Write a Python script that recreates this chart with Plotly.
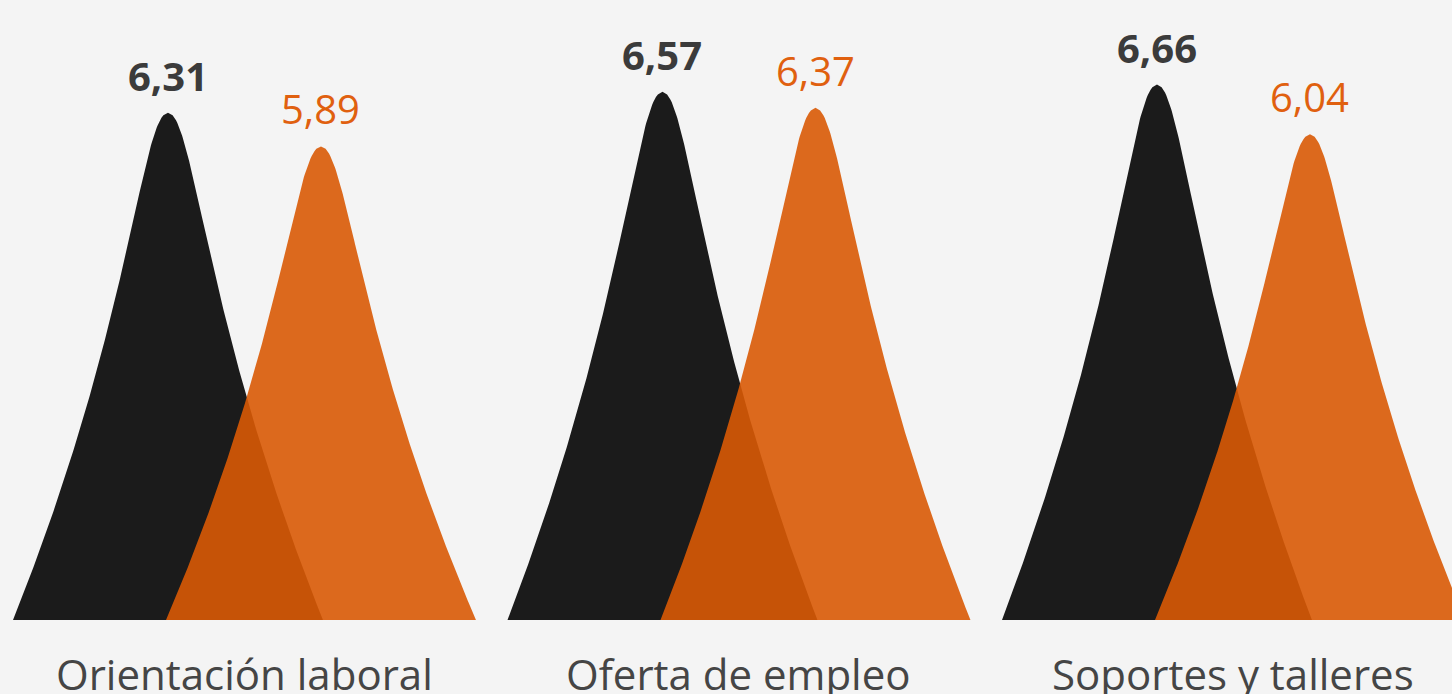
import numpy as np
import plotly.graph_objects as go

categories = ["Orientación laboral", "Oferta de empleo", "Soportes y talleres"]
serie_negra = [6.31, 6.57, 6.66]
serie_naranja = [5.89, 6.37, 6.04]
etiquetas_negra = ["6,31", "6,57", "6,66"]
etiquetas_naranja = ["5,89", "6,37", "6,04"]

BLACK = "#1b1b1b"
ORANGE = "rgba(217,90,6,0.9)"
BG = "#f4f4f4"

offset = 0.1547      # half distance between the two peaks of a group (category units)
halfw = 0.3134       # half width of a peak at its base


def peak(xc, h):
    # peak outline: rounded tip, near-straight flanks that flare toward the base
    d = np.linspace(0, 1, 200)
    t = halfw * (0.42 * np.sqrt(d) + 0.58 * d ** 1.9)
    y = h * (1 - d)
    xs = np.concatenate([xc - t[::-1], xc + t[1:]])
    ys = np.concatenate([y[::-1], y[1:]])
    return xs, ys


fig = go.Figure()
for i, cat in enumerate(categories):
    xb, yb = peak(i - offset, serie_negra[i])
    fig.add_trace(go.Scatter(x=xb, y=yb, fill="toself", fillcolor=BLACK, mode="lines",
                             line=dict(width=0), hoverinfo="skip", showlegend=False))
    xo, yo = peak(i + offset, serie_naranja[i])
    fig.add_trace(go.Scatter(x=xo, y=yo, fill="toself", fillcolor=ORANGE, mode="lines",
                             line=dict(width=0), hoverinfo="skip", showlegend=False))
    fig.add_annotation(x=i - offset, y=serie_negra[i], text="<b>" + etiquetas_negra[i] + "</b>",
                       showarrow=False, yanchor="bottom", yshift=8,
                       font=dict(family="Open Sans", size=40, color="#3b3b3b"))
    fig.add_annotation(x=i + offset, y=serie_naranja[i], text=etiquetas_naranja[i],
                       showarrow=False, yanchor="bottom", yshift=8,
                       font=dict(family="Open Sans", size=40, color="#e0600f"))
    fig.add_annotation(x=i, y=0, text=cat, showarrow=False, yanchor="top", yshift=-23,
                       font=dict(family="Open Sans", size=42, color="#454545"))

fig.update_layout(
    width=1452, height=694,
    margin=dict(l=0, r=0, t=0, b=0),
    paper_bgcolor=BG, plot_bgcolor=BG,
    xaxis=dict(range=[-0.4944, 2.4419], visible=False, fixedrange=True),
    yaxis=dict(range=[-0.920, 7.711], visible=False, fixedrange=True),
)
fig.write_html("out.html", config={"displayModeBar": False},
               post_script="document.body.style.margin='0';document.body.style.overflow='hidden';"
                           "document.body.style.background='" + BG + "';")
